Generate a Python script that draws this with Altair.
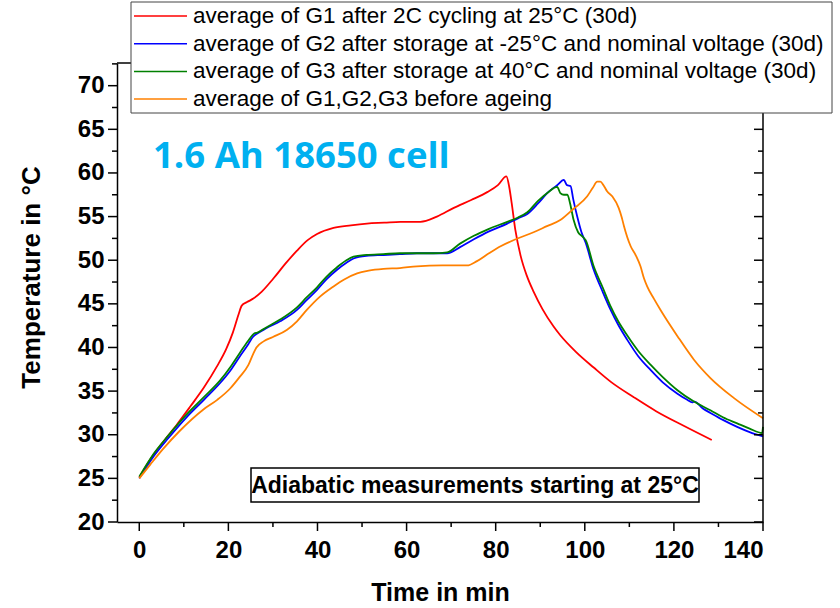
import altair as alt
import pandas as pd

series_names = [
    "average of G1 after 2C cycling at 25°C (30d)",
    "average of G2 after storage at -25°C and nominal voltage (30d)",
    "average of G3 after storage at 40°C and nominal voltage (30d)",
    "average of G1,G2,G3 before ageing",
]
series_colors = ["#ff0000", "#0000ff", "#008000", "#ff8000"]

g1_time = [0, 2.5, 5.4, 8.5, 11.4, 14.5, 17.4, 19.5, 21.0, 22.3, 23.0, 24.2, 25.6, 27.5, 30.1, 32.8,
           35.4, 37.8, 39.9, 43.6, 47.5, 51.1, 55, 58.6, 63.1, 66.8, 70.6, 74.5, 78.1, 80.5, 82.4,
           83.0, 83.6, 84.4, 85.6, 87.0, 88.5, 90.5, 93.0, 94.5, 98, 102, 106, 111, 116, 122.3, 128.5]
g1_temp = [25.1, 27.2, 29.2, 31.2, 33.2, 35.4, 37.8, 39.8, 41.7, 43.8, 44.8, 45.2, 45.6, 46.4, 47.9, 49.6,
           51.1, 52.3, 53.0, 53.7, 54.0, 54.2, 54.3, 54.4, 54.4, 55.0, 56.0, 56.9, 57.8, 58.6, 59.6,
           58.5, 56.5, 53.5, 50.5, 48.2, 46.4, 44.4, 42.4, 41.4, 39.5, 37.7, 36.0, 34.3, 32.7, 31.0, 29.4]

g2_time = [0, 3.2, 6.5, 10.6, 14.5, 18.1, 20.5, 22.6, 24.5, 25.5, 26.5, 28.5, 31.6, 35.4, 37.5, 39.9,
           42, 44.4, 46.5, 48.1, 51, 54.8, 58.5, 62.3, 66, 69.1, 72, 75.1, 78.5, 82.6, 85, 87.1, 89.5,
           91.8, 93.8, 95.3, 96.0, 96.8, 97.4, 98.3, 99.2, 100.2, 102.0, 104, 105.8, 107.5, 109.5, 112,
           114.8, 117.5, 120.8, 123, 124.1, 124.6, 126.5, 128.2, 131, 134.2, 137, 140]
g2_temp = [25.0, 27.5, 29.6, 32.0, 34.0, 35.9, 37.4, 39.0, 40.4, 41.2, 41.6, 42.2, 43.0, 44.3, 45.4, 46.6,
           47.8, 48.9, 49.7, 50.2, 50.5, 50.6, 50.7, 50.8, 50.8, 50.8, 51.5, 52.4, 53.3, 54.2, 54.8, 55.3, 56.5,
           57.8, 58.6, 59.2, 58.6, 58.5, 57.0, 55.0, 53.3, 52.0, 48.9, 46.4, 44.3, 42.6, 40.9, 39.0,
           37.4, 36.0, 34.7, 34.0, 33.7, 33.8, 33.0, 32.5, 31.7, 30.9, 30.3, 29.8]

g3_time = [0, 3.2, 6.5, 10.6, 14.5, 18.1, 20.5, 22.6, 24.5, 25.8, 26.5, 28.5, 31.6, 35.4, 37.5, 39.9,
           42, 44.4, 46.5, 48.1, 51, 54.8, 58.5, 62.3, 66, 69.1, 72, 75.1, 78.5, 82.6, 85, 87.1, 89.5,
           91.8, 93.8, 94.5, 95.3, 96.1, 96.7, 97.5, 98.5, 99.5, 100.2, 102, 104, 105.8, 107.5, 109.5,
           112, 114.8, 117.5, 120.8, 124.5, 128.2, 131, 134.2, 137, 139.8, 140]
g3_temp = [25.2, 27.8, 29.9, 32.3, 34.3, 36.2, 37.8, 39.4, 40.8, 41.6, 41.7, 42.3, 43.2, 44.6, 45.7, 46.9,
           48.1, 49.2, 50.0, 50.4, 50.6, 50.7, 50.8, 50.8, 50.8, 50.9, 51.9, 52.8, 53.6, 54.4, 54.9, 55.5, 56.8,
           57.8, 58.4, 57.7, 57.5, 57.5, 56.5, 54.6, 53.2, 52.7, 52.3, 49.3, 46.9, 44.7, 43.0, 41.4,
           39.6, 38.0, 36.6, 35.1, 33.8, 32.8, 32.0, 31.3, 30.7, 30.2, 30.9]

g0_time = [0, 2.5, 5.4, 9, 14.4, 17.5, 20.4, 22.5, 24.5, 25.6, 26.3, 27.9, 30, 33.1, 35.4, 37.6, 40.5,
           43.6, 46, 48.9, 51.5, 54.8, 58.5, 62.3, 68, 73.6, 75.8, 78.5, 81.1, 84.5, 88.5, 91.5, 94.5,
           97.5, 100.5, 101.8, 102.8, 103.5, 104.2, 105, 106.2, 107.6, 108.3, 108.8, 110.3, 111.5, 112.5,
           113.3, 114.0, 115.5, 117.0, 120.8, 124.5, 128.2, 133.5, 140]
g0_temp = [25.0, 26.6, 28.4, 30.4, 32.9, 34.0, 35.3, 36.6, 38.0, 39.3, 40.0, 40.7, 41.2, 42.0, 43.0, 44.3, 45.8,
           47.0, 47.8, 48.5, 48.8, 49.0, 49.1, 49.3, 49.4, 49.4, 49.9, 50.8, 51.6, 52.4, 53.2, 53.9, 54.6,
           55.9, 57.3, 58.3, 59.0, 59.0, 58.6, 57.9, 57.3, 56.0, 54.9, 53.9, 51.6, 50.5, 49.3,
           47.9, 47.0, 45.6, 44.3, 41.3, 38.6, 36.5, 34.2, 31.9]

x_label_values = [0, 20, 40, 60, 80, 100, 120, 140]
x_minor_values = [10, 30, 50, 70, 90, 110, 130]
y_label_values = [20, 25, 30, 35, 40, 45, 50, 55, 60, 65, 70]
y_minor_values = [22.5, 27.5, 32.5, 37.5, 42.5, 47.5, 52.5, 57.5, 62.5, 67.5, 72.5]

title_text = "1.6 Ah 18650 cell"
note_text = "Adiabatic measurements starting at 25°C"

W, H = 646, 459
FONT = "Liberation Sans"

rows = []
for name, ts, vs in zip(series_names,
                        [g1_time, g2_time, g3_time, g0_time],
                        [g1_temp, g2_temp, g3_temp, g0_temp]):
    for t, v in zip(ts, vs):
        rows.append({"series": name, "t": t, "T": v})
df = pd.DataFrame(rows)

xscale = alt.Scale(domain=[-5, 140], nice=False, zero=False)
yscale = alt.Scale(domain=[20, 72.6], nice=False, zero=False)
cscale = alt.Scale(domain=series_names, range=series_colors)

x_axis = alt.Axis(
    values=x_label_values, ticks=False, grid=False, format="d",
    labelPadding=16, labelFontSize=24, labelFontWeight="bold", labelFont=FONT, labelColor="black",
    title="Time in min", titleFont=FONT, titleFontSize=25, titleFontWeight="bold", titleColor="black",
    titleX=W / 2, titleY=70, titleBaseline="middle", titleAlign="center",
    domainColor="black", domainWidth=1.5)
y_axis = alt.Axis(
    values=y_label_values, ticks=False, grid=False, format="d",
    labelPadding=13, labelFontSize=24, labelFontWeight="bold", labelFont=FONT, labelColor="black",
    labelBaseline="middle",
    title="Temperature in °C", titleFont=FONT, titleFontSize=26, titleFontWeight="bold",
    titleColor="black", titleAngle=270, titleX=-86, titleY=214, titleBaseline="middle",
    titleAlign="center", domainColor="black", domainWidth=1.5)

lines = alt.Chart(df).mark_line(strokeWidth=1.8, interpolate="monotone").encode(
    x=alt.X("t:Q", scale=xscale, axis=x_axis),
    y=alt.Y("T:Q", scale=yscale, axis=y_axis),
    color=alt.Color("series:N", scale=cscale, legend=None),
    detail="series:N",
)

dummy = pd.DataFrame({"a": [0]})
ymaj = pd.DataFrame({"T": y_label_values})
ymin = pd.DataFrame({"T": y_minor_values})
xmaj = pd.DataFrame({"t": x_label_values})
xmin = pd.DataFrame({"t": x_minor_values})

def yt(data, x1, x2):
    return alt.Chart(data).mark_rule(color="black", strokeWidth=1.5).encode(
        y=alt.Y("T:Q", scale=yscale, axis=y_axis), x=alt.value(x1), x2=alt.value(x2))

def xt(data, y1, y2):
    return alt.Chart(data).mark_rule(color="black", strokeWidth=1.5).encode(
        x=alt.X("t:Q", scale=xscale, axis=x_axis), y=alt.value(y1), y2=alt.value(y2))

ticks = [
    yt(ymaj, -9, 0), yt(ymin, -5, 0), yt(ymaj, W - 9, W), yt(ymin, W - 5, W),
    xt(xmaj, H, H + 9), xt(xmin, H, H + 5),
]

frame_right = alt.Chart(dummy).mark_rule(color="black", strokeWidth=1.5).encode(
    x=alt.value(W), y=alt.value(0), y2=alt.value(H))
frame_top = alt.Chart(dummy).mark_rule(color="black", strokeWidth=1.5).encode(
    x=alt.value(0), x2=alt.value(W), y=alt.value(0))

note_df = pd.DataFrame({"label": [note_text]})
note_box = alt.Chart(note_df).mark_rect(fill="white", stroke="black", strokeWidth=1.5).encode(
    x=alt.value(134), x2=alt.value(582), y=alt.value(405), y2=alt.value(439))
note = alt.Chart(note_df).mark_text(font=FONT, fontSize=23, fontWeight="bold", color="black",
                                    align="center", baseline="middle").encode(
    x=alt.value(358), y=alt.value(423), text="label:N")

title_df = pd.DataFrame({"label": [title_text]})
title = alt.Chart(title_df).mark_text(font="Open Sans", fontSize=36.5, fontWeight="bold", color="#00b0f0",
                                      align="left", baseline="alphabetic").encode(
    x=alt.value(36), y=alt.value(105), text="label:N")

# legend drawn from the series list
legend_df = pd.DataFrame({"series": series_names, "idx": list(range(len(series_names)))})
legend_box = alt.Chart(dummy).mark_rect(fill="white", stroke="#444", strokeWidth=1).encode(
    x=alt.value(14), x2=alt.value(715), y=alt.value(-61), y2=alt.value(50))
legend_base = alt.Chart(legend_df).transform_calculate(py="datum.idx * 27.7 - 47")
legend_lines = legend_base.mark_rule(strokeWidth=1.5).encode(
    x=alt.value(17), x2=alt.value(70),
    y=alt.Y("py:Q", scale=None, axis=None),
    color=alt.Color("series:N", scale=cscale, legend=None))
legend_text = legend_base.mark_text(font=FONT, fontSize=22.5, color="black", align="left",
                                    baseline="middle").encode(
    x=alt.value(76), y=alt.Y("py:Q", scale=None, axis=None), text="series:N")

chart = alt.layer(lines, *ticks, frame_right, frame_top, note_box, note, title,
                  legend_box, legend_lines, legend_text).properties(
    width=W, height=H,
    autosize=alt.AutoSizeParams(type="none"),
    padding={"left": 117, "top": 63, "right": 77, "bottom": 86},
    background="white",
).configure_view(stroke=None)

chart.save("out.html", embed_options={"renderer": "svg", "actions": False})
